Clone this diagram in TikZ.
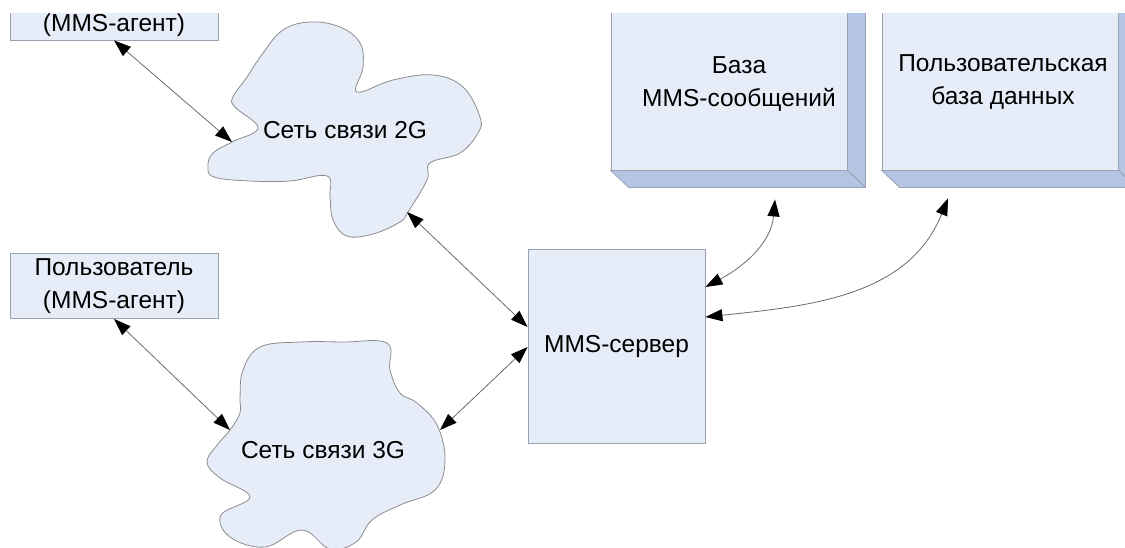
\documentclass[tikz,border=0pt]{standalone}
\usepackage{fontspec}
\setmainfont{Liberation Sans}
\usetikzlibrary{arrows.meta}

\definecolor{facefill}{HTML}{E6EDF8}
\definecolor{sidefill}{HTML}{B3C5E3}
\definecolor{edgegray}{HTML}{98A2B2}
\definecolor{linkgray}{HTML}{6A6A6A}
\definecolor{cloudedge}{HTML}{8C8C8C}

\begin{document}
\begin{tikzpicture}[x=1pt,y=-1pt,
  lbl/.style={font=\fontsize{24.5}{32.5}\selectfont, align=center, text=black, inner sep=0pt},
  agentbox/.style={draw=edgegray, fill=facefill, line width=0.8pt, minimum width=208pt, minimum height=65pt, lbl},
  serverbox/.style={draw=edgegray, fill=facefill, line width=0.8pt, minimum width=177pt, minimum height=194pt, lbl},
  dbface/.style={draw=edgegray, fill=facefill, line width=0.8pt, minimum width=236pt, minimum height=174pt, inner sep=0pt},
  dbside/.style={draw=edgegray, fill=sidefill, line width=0.8pt, line join=round},
  cloudshape/.style={draw=cloudedge, fill=facefill, line width=0.8pt},
  link/.style={draw=linkgray, line width=0.8pt,
    arrows={Triangle[length=17pt,width=12pt,color=black,fill=black]-Triangle[length=17pt,width=12pt,color=black,fill=black]}},
]
\useasboundingbox (0,0) rectangle (1125,547);
\begin{scope}
\clip (0,13) rectangle (1125,547);

% user agents (the upper one runs past the top edge)
\node[agentbox] (ua) at (114,7.5) {};
\node[lbl] (uatext) at (114,25) {(MMS-агент)};
\node[agentbox] (la) at (114,286) {Пользователь\\(MMS-агент)};

% 2G network cloud
\filldraw[cloudshape] plot[smooth cycle, tension=0.65] coordinates {
  (258,128) (235,107) (233,97) (247,77) (263,53) (283,30) (310,22) (340,27)
  (360,43) (363,67) (357,92) (393,80) (433,75) (463,87) (480,117) (478,133)
  (460,153) (430,163) (427,180) (408,212) (400,222) (373,234) (347,236)
  (333,220) (330,197) (327,176) (290,181) (250,181) (214,177) (208,166)
  (213,153) (232,142)};
\node[lbl] (net2g) at (345,130) {Сеть связи 2G};
\coordinate (c2g-l) at (232,142);
\coordinate (c2g-r) at (407,212);

% 3G network cloud
\filldraw[cloudshape] plot[smooth cycle, tension=0.65] coordinates {
  (260,347) (300,342) (343,342) (387,343) (390,370) (400,393) (417,403)
  (437,425) (445,460) (435,490) (400,505) (372,520) (356,542) (330,549)
  (302,530) (265,547) (230,537) (221,515) (250,497) (220,478) (207,462)
  (218,444) (230,430) (240,413) (240,397) (243,370)};
\node[lbl] (net3g) at (323,450) {Сеть связи 3G};
\coordinate (c3g-l) at (230,430);
\coordinate (c3g-r) at (440,430);

% MMS server
\node[serverbox] (srv) at (616.5,346) {MMS-сервер};

% message store
\node[dbface] (db1) at (729,83) {};
\filldraw[dbside] (db1.north east) -- ++(18,17) -- ([shift={(18,17)}]db1.south east) -- (db1.south east) -- cycle;
\filldraw[dbside] (db1.south west) -- (db1.south east) -- ([shift={(18,17)}]db1.south east) -- ([shift={(18,17)}]db1.south west) -- cycle;
\node[lbl] (db1text) at (739,84) {База\\MMS-сообщений};

% user database
\node[dbface] (db2) at (1000,83) {};
\filldraw[dbside] (db2.north east) -- ++(18,17) -- ([shift={(18,17)}]db2.south east) -- (db2.south east) -- cycle;
\filldraw[dbside] (db2.south west) -- (db2.south east) -- ([shift={(18,17)}]db2.south east) -- ([shift={(18,17)}]db2.south west) -- cycle;
\node[lbl] (db2text) at (1003,82) {Пользовательская\\база данных};

% links
\draw[link] (ua.south) -- (c2g-l);
\draw[link] (la.south) -- (c3g-l);
\draw[link] (c2g-r) -- ([yshift=19pt]srv.west);
\draw[link] (c3g-r) -- ([yshift=-1pt]srv.west);
\draw[link] ([shift={(46,29)}]db1.south) to[out=-95,in=28] ([yshift=59pt]srv.east);
\draw[link] ([shift={(-52,28)}]db2.south) to[out=-112,in=6] ([yshift=29pt]srv.east);
\end{scope}
\end{tikzpicture}
\end{document}
